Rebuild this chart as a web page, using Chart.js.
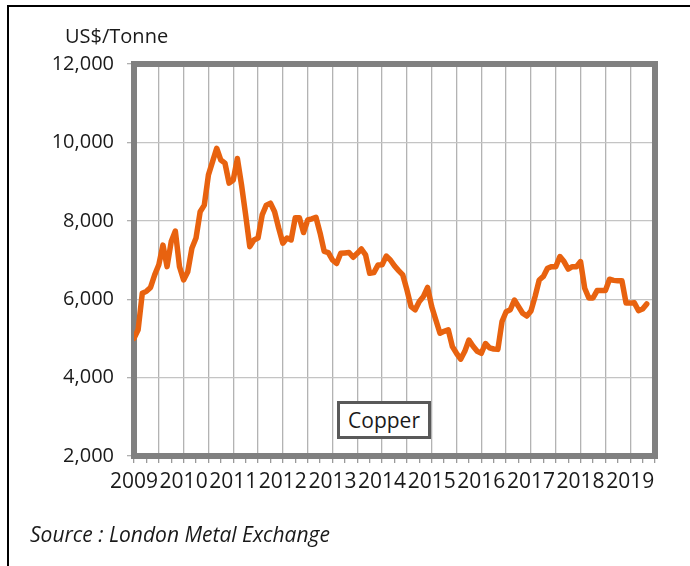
<!DOCTYPE html>
<html>
<head>
<meta charset="utf-8">
<script src="https://cdn.jsdelivr.net/npm/chart.js@4.4.1/dist/chart.umd.min.js"></script>
<style>
    html, body { margin: 0; padding: 0; background: #fff; overflow: hidden; }
    body { width: 690px; height: 566px; position: relative; font-family: "Open Sans", "Noto Sans", sans-serif; color: #1a1a1a; }
    .frame { position: absolute; left: 7px; top: 5px; width: 800px; height: 700px; border: 2px solid #000; box-sizing: border-box; }
    .unit { position: absolute; left: 65px; top: 22px; font-size: 20px; line-height: 28px; }
    .source { position: absolute; left: 30px; top: 520px; font-size: 21px; line-height: 28px; font-style: italic; }
    .series-box { position: absolute; left: 337px; top: 401px; width: 94px; height: 38px; box-sizing: border-box;
        border: 3px solid #595959; background: #fff; font-size: 21px; line-height: 32px; text-align: center; }
    canvas { position: absolute; left: 0; top: 0; }
</style>
</head>
<body>
<div class="frame"></div>
<canvas id="copper-chart" width="690" height="566"></canvas>
<div class="unit">US$/Tonne</div>
<div class="series-box">Copper</div>
<div class="source">Source : London Metal Exchange</div>

<script>
// COPPER PRICE DATA (monthly, Jan 2009 - May 2019) //

const years = ['2009', '2010', '2011', '2012', '2013', '2014', '2015', '2016', '2017', '2018', '2019'];

const copper = [
    5000, 5220, 6150, 6200, 6300, 6620, 6880, 7380, 6830, 7470, 7740, 6830,
    6490, 6700, 7300, 7560, 8230, 8400, 9170, 9510, 9850, 9550, 9470, 8960,
    9040, 9590, 8920, 8150, 7340, 7510, 7560, 8150, 8400, 8450, 8230, 7810,
    7430, 7560, 7510, 8080, 8080, 7700, 8020, 8050, 8090, 7690, 7220, 7190,
    7000, 6910, 7170, 7180, 7190, 7070, 7170, 7280, 7130, 6660, 6680, 6870,
    6880, 7100, 7000, 6850, 6730, 6620, 6240, 5810, 5730, 5940, 6070, 6300,
    5810, 5470, 5130, 5180, 5220, 4790, 4620, 4470, 4670, 4960, 4800, 4670,
    4620, 4870, 4760, 4730, 4720, 5430, 5680, 5730, 5980, 5810, 5640, 5570,
    5700, 6070, 6490, 6580, 6790, 6830, 6830, 7090, 6960, 6770, 6830, 6830,
    6960, 6280, 6030, 6030, 6220, 6220, 6220, 6510, 6480, 6470, 6470, 5900,
    5900, 5910, 5710, 5750, 5880
];

const yTicks = [2000, 4000, 6000, 8000, 10000, 12000];

// thick gray frame round the plot area
const plotFrame = {
    id: 'plotFrame',
    beforeDatasetsDraw(chart) {
        const { ctx, chartArea: a } = chart;
        ctx.save();
        ctx.strokeStyle = '#808080';
        ctx.lineWidth = 6;
        ctx.strokeRect(a.left, a.top, a.right - a.left, a.bottom - a.top);
        ctx.restore();
    }
};

const copperCanvas = document.getElementById('copper-chart');

let copperChart = new Chart(copperCanvas, {
    type: 'line',
    data: {
        datasets: [{
            data: copper.map((v, i) => ({ x: i, y: v })),
            borderColor: '#E8620F',
            borderWidth: 5.5,
            pointRadius: 0,
            tension: 0,
            borderJoinStyle: 'round',
            borderCapStyle: 'round'
        }]
    },
    options: {
        responsive: false,
        animation: false,
        devicePixelRatio: 1,
        layout: {
            padding: { left: 0, top: 64, right: 35, bottom: 70 }
        },
        scales: {
            x: {
                type: 'linear',
                min: 0,
                max: years.length * 12 - 6,
                afterFit: (scale) => { scale.height = 40; },
                border: { display: false },
                grid: {
                    color: (c) => (c.tick && c.tick.value % 6 === 0) ? '#b3b3b3' : 'rgba(0,0,0,0)',
                    tickColor: '#9a9a9a',
                    tickLength: 7,
                    lineWidth: 1.3
                },
                ticks: {
                    stepSize: 3,
                    autoSkip: false,
                    maxRotation: 0,
                    padding: 6,
                    color: '#1a1a1a',
                    font: { family: '"Open Sans"', size: 21 },
                    callback: (value) => value % 12 === 0 ? years[value / 12] : ''
                }
            },
            y: {
                min: yTicks[0],
                max: yTicks[yTicks.length - 1],
                afterFit: (scale) => { scale.width = 134; },
                afterBuildTicks: (scale) => { scale.ticks = yTicks.map(v => ({ value: v })); },
                border: { display: false },
                grid: {
                    color: '#c4c4c4',
                    tickColor: '#b0b0b0',
                    tickLength: 7,
                    lineWidth: 1.3
                },
                ticks: {
                    padding: 13,
                    color: '#1a1a1a',
                    font: { family: '"Open Sans"', size: 20 },
                    callback: (value) => value.toLocaleString('en-US')
                }
            }
        },
        plugins: {
            legend: { display: false },
            tooltip: { enabled: false }
        }
    },
    plugins: [plotFrame]
});
</script>
</body>
</html>
